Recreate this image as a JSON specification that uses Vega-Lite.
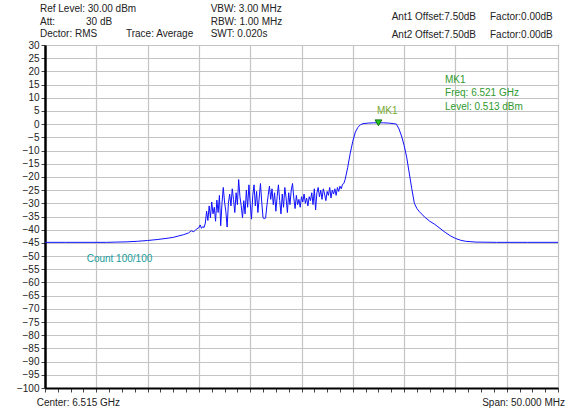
{
  "$schema": "https://vega.github.io/schema/vega-lite/v6.json",
  "width": 513,
  "height": 343,
  "autosize": {"type": "none"},
  "padding": {"left": 45, "top": 45, "right": 12, "bottom": 26},
  "background": "white",
  "config": {"view": {"stroke": "black", "strokeWidth": 1}, "font": "Liberation Sans"},
  "datasets": {
    "trace": [
      {"f":6490,"p":-44.8},{"f":6492,"p":-44.8},{"f":6494,"p":-44.8},{"f":6496,"p":-44.8},{"f":6497,"p":-44.7},{"f":6498,"p":-44.6},{"f":6499,"p":-44.4},{"f":6500,"p":-44.1},{"f":6501,"p":-43.7},{"f":6502,"p":-43.2},{"f":6502.5,"p":-42.9},{"f":6503,"p":-42.4},{"f":6503.5,"p":-41.9},{"f":6504,"p":-41.2},{"f":6504.25,"p":-40.4},{"f":6504.5,"p":-40.8},{"f":6504.75,"p":-39.8},{"f":6505,"p":-39.2},
      {"f":6505.125,"p":-38.2},{"f":6505.25,"p":-39.5},{"f":6505.375,"p":-38.8},{"f":6505.5,"p":-39.2},{"f":6505.625,"p":-37.5},{"f":6505.75,"p":-33.0},{"f":6505.875,"p":-36.5},{"f":6506.0,"p":-31.0},{"f":6506.125,"p":-35.5},{"f":6506.25,"p":-29.5},{"f":6506.375,"p":-34.0},{"f":6506.5,"p":-31.5},{"f":6506.625,"p":-36.8},{"f":6506.75,"p":-28.8},{"f":6506.875,"p":-33.5},{"f":6507.0,"p":-27.0},{"f":6507.125,"p":-38.5},{"f":6507.25,"p":-30.0},{"f":6507.375,"p":-24.0},{"f":6507.5,"p":-29.5},{"f":6507.625,"p":-33.0},{"f":6507.75,"p":-39.0},{"f":6507.875,"p":-30.0},{"f":6508.0,"p":-26.5},{"f":6508.125,"p":-31.0},{"f":6508.25,"p":-24.5},{"f":6508.375,"p":-28.5},{"f":6508.5,"p":-33.5},{"f":6508.625,"p":-26.0},{"f":6508.75,"p":-30.5},{"f":6508.875,"p":-21.0},{"f":6509.0,"p":-27.5},{"f":6509.125,"p":-31.0},{"f":6509.25,"p":-35.5},{"f":6509.375,"p":-29.0},{"f":6509.5,"p":-34.0},{"f":6509.625,"p":-25.0},{"f":6509.75,"p":-31.5},{"f":6509.875,"p":-23.0},{"f":6510.0,"p":-30.0},{"f":6510.125,"p":-36.0},{"f":6510.25,"p":-27.0},{"f":6510.375,"p":-23.0},{"f":6510.5,"p":-31.0},{"f":6510.625,"p":-25.5},{"f":6510.75,"p":-33.5},{"f":6510.875,"p":-28.0},{"f":6511.0,"p":-22.5},{"f":6511.125,"p":-29.5},{"f":6511.25,"p":-35.5},{"f":6511.375,"p":-35.8},{"f":6511.5,"p":-35.6},{"f":6511.625,"p":-31.0},{"f":6511.75,"p":-27.0},{"f":6511.875,"p":-23.5},{"f":6512.0,"p":-28.5},{"f":6512.125,"p":-24.5},{"f":6512.25,"p":-30.5},{"f":6512.375,"p":-26.0},{"f":6512.5,"p":-33.0},{"f":6512.625,"p":-27.5},{"f":6512.75,"p":-23.0},{"f":6512.875,"p":-29.0},{"f":6513.0,"p":-34.0},{"f":6513.125,"p":-26.5},{"f":6513.25,"p":-31.5},{"f":6513.375,"p":-24.0},{"f":6513.5,"p":-28.0},{"f":6513.625,"p":-33.5},{"f":6513.75,"p":-26.0},{"f":6513.875,"p":-30.5},{"f":6514.0,"p":-25.0},{"f":6514.125,"p":-22.5},{"f":6514.25,"p":-28.0},{"f":6514.375,"p":-32.0},{"f":6514.5,"p":-27.0},{"f":6514.625,"p":-30.5},{"f":6514.75,"p":-28.5},{"f":6514.875,"p":-31.5},{"f":6515.0,"p":-27.5},{"f":6515.125,"p":-29.5},{"f":6515.25,"p":-26.5},{"f":6515.375,"p":-30.0},{"f":6515.5,"p":-28.0},{"f":6515.625,"p":-31.0},{"f":6515.75,"p":-27.5},{"f":6515.875,"p":-29.0},{"f":6516.0,"p":-26.0},{"f":6516.125,"p":-30.5},{"f":6516.25,"p":-24.5},{"f":6516.375,"p":-32.5},{"f":6516.5,"p":-26.0},{"f":6516.625,"p":-24.0},{"f":6516.75,"p":-27.5},{"f":6516.875,"p":-25.0},{"f":6517.0,"p":-28.5},{"f":6517.125,"p":-24.5},{"f":6517.25,"p":-26.5},{"f":6517.375,"p":-29.0},{"f":6517.5,"p":-25.5},{"f":6517.625,"p":-27.0},{"f":6517.75,"p":-24.0},{"f":6517.875,"p":-28.0},{"f":6518.0,"p":-25.0},{"f":6518.125,"p":-26.5},{"f":6518.25,"p":-24.5},{"f":6518.375,"p":-27.0},{"f":6518.5,"p":-24.0},{"f":6518.625,"p":-25.5},{"f":6518.75,"p":-23.5},{"f":6518.875,"p":-24.5},{"f":6519.0,"p":-22.8},{"f":6519.125,"p":-22.5},
      {"f":6519.25,"p":-21.0},{"f":6519.5,"p":-16.5},{"f":6519.75,"p":-11.0},{"f":6520,"p":-6.5},{"f":6520.25,"p":-3.0},{"f":6520.5,"p":-1.2},{"f":6520.75,"p":-0.2},{"f":6521,"p":0.2},{"f":6521.5,"p":0.4},{"f":6522,"p":0.5},{"f":6522.5,"p":0.513},{"f":6523,"p":0.5},{"f":6523.5,"p":0.4},{"f":6524,"p":0.2},{"f":6524.25,"p":0.0},{"f":6524.5,"p":-1.8},{"f":6524.75,"p":-4.5},{"f":6525,"p":-8.0},{"f":6525.25,"p":-12.5},{"f":6525.5,"p":-18.5},{"f":6525.75,"p":-24.5},{"f":6526,"p":-30.0},{"f":6526.25,"p":-32.0},{"f":6526.5,"p":-33.2},{"f":6527,"p":-35.2},{"f":6527.5,"p":-36.8},{"f":6528,"p":-38.0},{"f":6528.5,"p":-39.5},{"f":6529,"p":-41.0},{"f":6529.5,"p":-42.3},{"f":6530,"p":-43.3},{"f":6530.5,"p":-44.0},{"f":6531,"p":-44.4},{"f":6532,"p":-44.7},{"f":6534,"p":-44.8},{"f":6537,"p":-44.8},{"f":6540,"p":-44.8}
    ],
    "marker": [{"f": 6522.5, "p": 0.513}],
    "labels": [
      {"f": 6489.51, "p": 43.6, "t": "Ref Level: 30.00 dBm", "g": "header"},
      {"f": 6489.51, "p": 38.9, "t": "Att:", "g": "header"},
      {"f": 6494.0, "p": 38.9, "t": "30 dB", "g": "header"},
      {"f": 6489.51, "p": 34.1, "t": "Dector: RMS", "g": "header"},
      {"f": 6497.89, "p": 34.1, "t": "Trace: Average", "g": "header"},
      {"f": 6506.15, "p": 43.6, "t": "VBW: 3.00 MHz", "g": "header"},
      {"f": 6506.15, "p": 38.9, "t": "RBW: 1.00 MHz", "g": "header"},
      {"f": 6506.15, "p": 34.1, "t": "SWT: 0.020s", "g": "header"},
      {"f": 6523.79, "p": 40.8, "t": "Ant1 Offset:7.50dB", "g": "header"},
      {"f": 6533.37, "p": 40.8, "t": "Factor:0.00dB", "g": "header"},
      {"f": 6523.79, "p": 33.9, "t": "Ant2 Offset:7.50dB", "g": "header"},
      {"f": 6533.37, "p": 33.9, "t": "Factor:0.00dB", "g": "header"},
      {"f": 6489.19, "p": -105.8, "t": "Center: 6.515 GHz", "g": "header"},
      {"f": 6494.06, "p": -51.1, "t": "Count 100/100", "g": "count"},
      {"f": 6528.99, "p": 16.7, "t": "MK1", "g": "info"},
      {"f": 6528.99, "p": 11.7, "t": "Freq: 6.521 GHz", "g": "info"},
      {"f": 6528.99, "p": 6.6, "t": "Level: 0.513 dBm", "g": "info"},
      {"f": 6522.35, "p": 5.0, "t": "MK1", "g": "mk"}
    ],
    "span": [{"f": 6540.68, "p": -105.8, "t": "Span: 50.000 MHz", "g": "header"}]
  },
  "encoding": {
    "x": {
      "field": "f", "type": "quantitative",
      "scale": {"domain": [6490, 6540], "nice": false, "zero": false},
      "axis": {
        "title": null, "labels": false,
        "values": [6490,6491.25,6492.5,6493.75,6495,6496.25,6497.5,6498.75,6500,6501.25,6502.5,6503.75,6505,6506.25,6507.5,6508.75,6510,6511.25,6512.5,6513.75,6515,6516.25,6517.5,6518.75,6520,6521.25,6522.5,6523.75,6525,6526.25,6527.5,6528.75,6530,6531.25,6532.5,6533.75,6535,6536.25,6537.5,6538.75,6540],
        "domain": true, "domainColor": "black", "domainWidth": 2,
        "ticks": true, "tickSize": 4, "tickColor": "#444444", "tickWidth": 1,
        "grid": true, "gridColor": "#c4c4c4", "gridWidth": 1.2,
        "gridOpacity": {"condition": {"test": "(datum.value - 6490) % 5 === 0", "value": 1}, "value": 0}
      }
    },
    "y": {
      "field": "p", "type": "quantitative",
      "scale": {"domain": [-100, 30], "nice": false, "zero": false},
      "axis": {
        "title": null,
        "values": [-100,-95,-90,-85,-80,-75,-70,-65,-60,-55,-50,-45,-40,-35,-30,-25,-20,-15,-10,-5,0,5,10,15,20,25,30],
        "labelOverlap": false,
        "domain": true, "domainColor": "black", "domainWidth": 2.5,
        "ticks": true, "tickSize": 4, "tickColor": "#444444",
        "labelFontSize": 10, "labelColor": "#222222", "labelPadding": 2, "labelFont": "Liberation Sans",
        "grid": true, "gridColor": "#c4c4c4", "gridWidth": 1.2
      }
    }
  },
  "layer": [
    {
      "data": {"name": "trace"},
      "mark": {"type": "line", "color": "#1010ff", "strokeWidth": 1, "clip": true}
    },
    {
      "data": {"name": "marker"},
      "mark": {"type": "point", "shape": "triangle-down", "filled": true, "fill": "#22c722", "stroke": "#0b6b0b", "strokeWidth": 1, "size": 45, "opacity": 1}
    },
    {
      "data": {"name": "labels"},
      "mark": {"type": "text", "align": "left", "baseline": "middle", "fontSize": 10, "font": "Liberation Sans"},
      "encoding": {
        "text": {"field": "t"},
        "color": {"field": "g", "type": "nominal", "legend": null,
          "scale": {"domain": ["header", "count", "info", "mk"], "range": ["#222222", "#1a9c9c", "#2f9a2f", "#78aa30"]}}
      }
    },
    {
      "data": {"name": "span"},
      "mark": {"type": "text", "align": "right", "baseline": "middle", "fontSize": 10, "font": "Liberation Sans", "color": "#222222"},
      "encoding": {
        "text": {"field": "t"}
      }
    }
  ]
}
